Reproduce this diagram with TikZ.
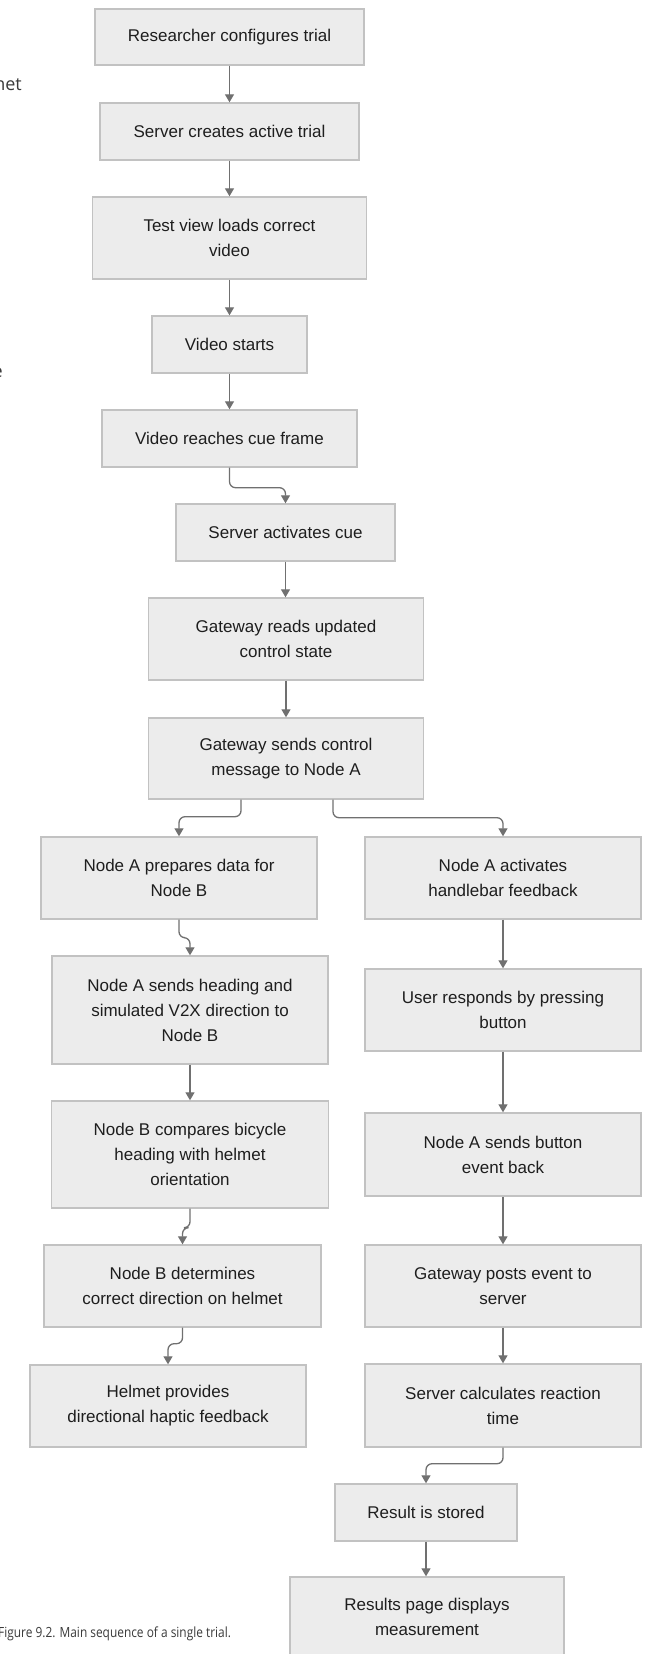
\documentclass[tikz,border=0pt]{standalone}
\usepackage{fontspec}
\setmainfont{Liberation Sans}
\newfontfamily\pagefont{Open Sans}
\newfontfamily\capfont[FakeStretch=0.85]{Open Sans}
\usetikzlibrary{arrows.meta}
\definecolor{boxfill}{HTML}{ECECEC}
\definecolor{boxline}{HTML}{C2C2C2}
\definecolor{linkcol}{HTML}{707070}
\definecolor{inktext}{HTML}{1E1E1E}
\definecolor{pagetext}{HTML}{3A3A3A}
\begin{document}
\begin{tikzpicture}[x=1pt,y=-1pt,
  stepbox/.style={draw=boxline, line width=1.4pt, fill=boxfill, text=inktext,
    align=center, inner sep=0pt, font=\fontsize{17}{25}\selectfont},
  sz/.style 2 args={minimum width=#1pt, minimum height=#2pt},
  link/.style={draw=linkcol, line width=1.3pt, rounded corners=6pt,
    -{Triangle[length=8pt,width=9pt]}},
  pagefrag/.style={inner sep=0pt, text=pagetext, font=\pagefont\fontsize{18}{22}\selectfont},
  ]
\useasboundingbox (0,0) rectangle (655,1654);
\clip (0,0) rectangle (655,1654);

% fragments of the surrounding page text
\node[pagefrag, anchor=base east] (fragA) at (22,90) {net};
\node[pagefrag, anchor=base east] (fragB) at (3,377) {e};

% main column
\node[stepbox, sz={269}{56}] (res) at (229.5,37) {Researcher configures trial};
\node[stepbox, sz={259}{57}] (srv) at (229.5,131.5) {Server creates active trial};
\node[stepbox, sz={274}{82}] (test) at (229.5,238) {Test view loads correct\\video};
\node[stepbox, sz={155}{57}] (vstart) at (229.5,344.5) {Video starts};
\node[stepbox, sz={255}{57}] (vcue) at (229.5,438.5) {Video reaches cue frame};
\node[stepbox, sz={219}{57}] (cue) at (285.5,532.5) {Server activates cue};
\node[stepbox, sz={275}{82}] (gread) at (286,639) {Gateway reads updated\\control state};
\node[stepbox, sz={275}{81}] (gsend) at (286,758.5) {Gateway sends control\\message to Node A};

% helmet branch
\node[stepbox, sz={276}{82}] (prep) at (179,878) {Node A prepares data for\\Node B};
\node[stepbox, sz={276}{108}] (heading) at (190,1010) {Node A sends heading and\\simulated V2X direction to\\Node B};
\node[stepbox, sz={277}{107}] (compare) at (190,1154.5) {Node B compares bicycle\\heading with helmet\\orientation};
\node[stepbox, sz={277}{82}] (determ) at (182.5,1286) {Node B determines\\correct direction on helmet};
\node[stepbox, sz={276}{82}] (helmet) at (168,1406) {Helmet provides\\directional haptic feedback};

% handlebar branch
\node[stepbox, sz={276}{82}] (hand) at (503,878) {Node A activates\\handlebar feedback};
\node[stepbox, sz={276}{82}] (user) at (503,1010) {User responds by pressing\\button};
\node[stepbox, sz={276}{83}] (button) at (503,1154.5) {Node A sends button\\event back};
\node[stepbox, sz={276}{82}] (gpost) at (503,1286) {Gateway posts event to\\server};
\node[stepbox, sz={276}{83}] (calc) at (503,1405.5) {Server calculates reaction\\time};
\node[stepbox, sz={182}{57}] (stored) at (426,1512.5) {Result is stored};
\node[stepbox, sz={274}{80}] (results) at (427,1617) {Results page displays\\measurement};

% caption
\node[inner sep=0pt, anchor=base west, text=pagetext, font=\capfont\fontsize{14}{16}\selectfont] (cap) at (-2,1637) {Figure 9.2. Main sequence of a single trial.};

% straight links
\draw[link] (res.south) -- (res.south |- srv.north);
\draw[link] (srv.south) -- (srv.south |- test.north);
\draw[link] (test.south) -- (test.south |- vstart.north);
\draw[link] (vstart.south) -- (vstart.south |- vcue.north);
\draw[link] (cue.south) -- (cue.south |- gread.north);
\draw[link] (gread.south) -- (gread.south |- gsend.north);
\draw[link] (heading.south) -- (heading.south |- compare.north);
\draw[link] (hand.south) -- (hand.south |- user.north);
\draw[link] (user.south) -- (user.south |- button.north);
\draw[link] (button.south) -- (button.south |- gpost.north);
\draw[link] (gpost.south) -- (gpost.south |- calc.north);
\draw[link] (stored.south) -- (stored.south |- results.north);

% links with a sideways step
\draw[link] (vcue.south) -- ++(0,20) -| (cue.north);
\draw[link] ([xshift=-45pt]gsend.south) -- ++(0,17) -| (prep.north);
\draw[link] ([xshift=47pt]gsend.south) -- ++(0,18) -| (hand.north);
\draw[link] (prep.south) -- ++(0,18) -| (heading.north);
\draw[link] (compare.south) -- ++(0,19) -| (determ.north);
\draw[link] (determ.south) -- ++(0,16) -| (helmet.north);
\draw[link] (calc.south) -- ++(0,16) -| (stored.north);
\end{tikzpicture}
\end{document}
